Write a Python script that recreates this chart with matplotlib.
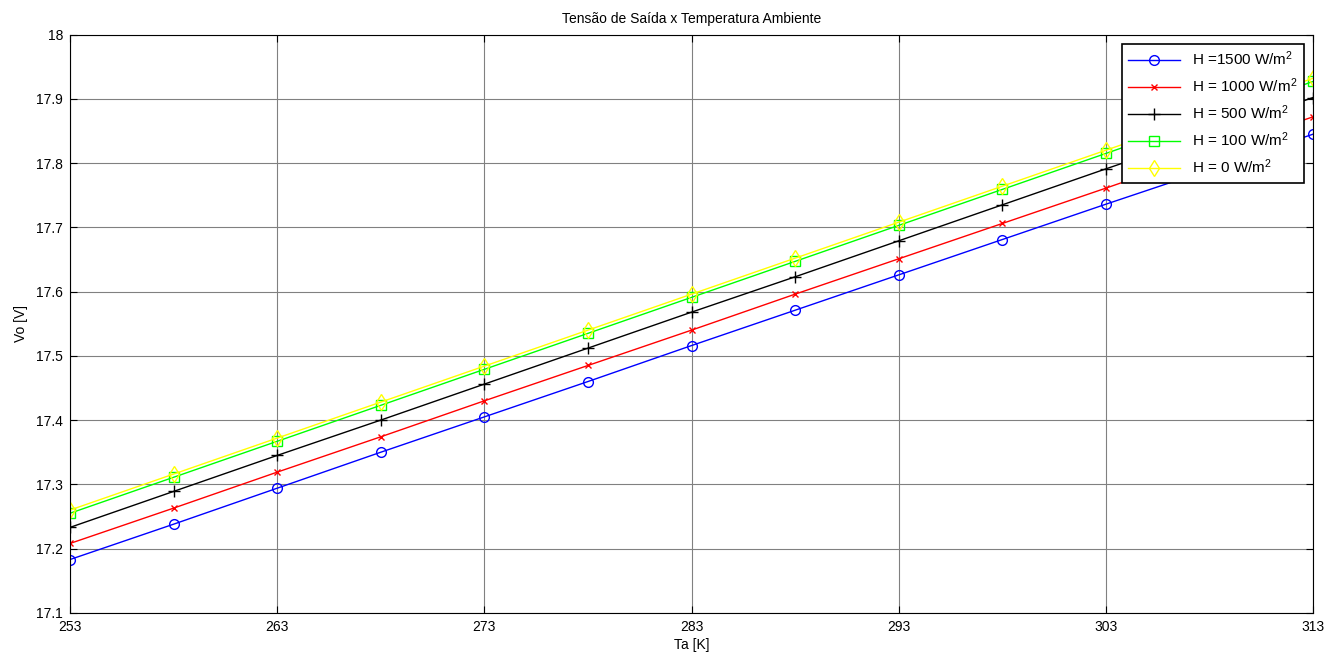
import matplotlib
matplotlib.use('Agg')
import matplotlib.pyplot as plt
import numpy as np

plt.rcParams['font.family'] = ['Liberation Sans', 'DejaVu Sans']
plt.rcParams['mathtext.default'] = 'regular'

# ambient temperature (K)
ta = np.arange(253, 314, 5)

# output voltage for each irradiance level
vo_1500 = [17.183, 17.238, 17.294, 17.350, 17.405, 17.460, 17.516,
           17.571, 17.626, 17.681, 17.736, 17.790, 17.845]
vo_1000 = [17.208, 17.263, 17.319, 17.374, 17.430, 17.485, 17.540,
           17.596, 17.651, 17.706, 17.761, 17.817, 17.872]
vo_500 = [17.233, 17.289, 17.345, 17.400, 17.456, 17.512, 17.568,
          17.623, 17.679, 17.735, 17.791, 17.846, 17.902]
vo_100 = [17.255, 17.311, 17.367, 17.423, 17.479, 17.535, 17.591,
          17.647, 17.703, 17.759, 17.815, 17.871, 17.927]
vo_0 = [17.260, 17.316, 17.372, 17.428, 17.484, 17.540, 17.596,
        17.652, 17.708, 17.764, 17.820, 17.876, 17.932]

fig = plt.figure(figsize=(13.37, 6.56), dpi=100)
ax = fig.add_axes([0.0524, 0.0658, 0.9297, 0.8815])

ms = 7
ax.plot(ta, vo_1500, 'b-o', mfc='none', ms=ms, lw=1, label='H =1500 W/m$^2$')
ax.plot(ta, vo_1000, 'r-x', ms=5, lw=1, label='H = 1000 W/m$^2$')
ax.plot(ta, vo_500, 'k-+', ms=ms + 1, lw=1, label='H = 500 W/m$^2$')
ax.plot(ta, vo_100, '-s', color='#00ff00', mfc='none', ms=ms, lw=1,
        label='H = 100 W/m$^2$')
ax.plot(ta, vo_0, '-d', color='#ffff00', mfc='none', ms=ms + 1, lw=1,
        label='H = 0 W/m$^2$')

ax.set_xlim(253, 313)
ax.set_ylim(17.1, 18.0)
ax.set_xticks(np.arange(253, 314, 10))
ax.set_yticks(np.arange(17.1, 18.01, 0.1))
ax.set_yticklabels(['17.1', '17.2', '17.3', '17.4', '17.5', '17.6',
                    '17.7', '17.8', '17.9', '18'])
ax.tick_params(direction='in', top=True, right=True, labelsize=10, length=5,
               pad=5)
ax.grid(True, color='#808080', lw=0.8)

ax.set_xlabel('Ta [K]', fontsize=10, labelpad=3)
ax.set_ylabel('Vo [V]', fontsize=10, labelpad=6)
ax.set_title('Tensão de Saída x Temperatura Ambiente', fontsize=10, pad=8)

leg = ax.legend(loc='upper right', fontsize=11, fancybox=False,
                framealpha=1, edgecolor='black', borderaxespad=0.6,
                handlelength=3.4, labelspacing=0.55)
leg.get_frame().set_linewidth(1.2)

fig.savefig('out.png', dpi=100)
